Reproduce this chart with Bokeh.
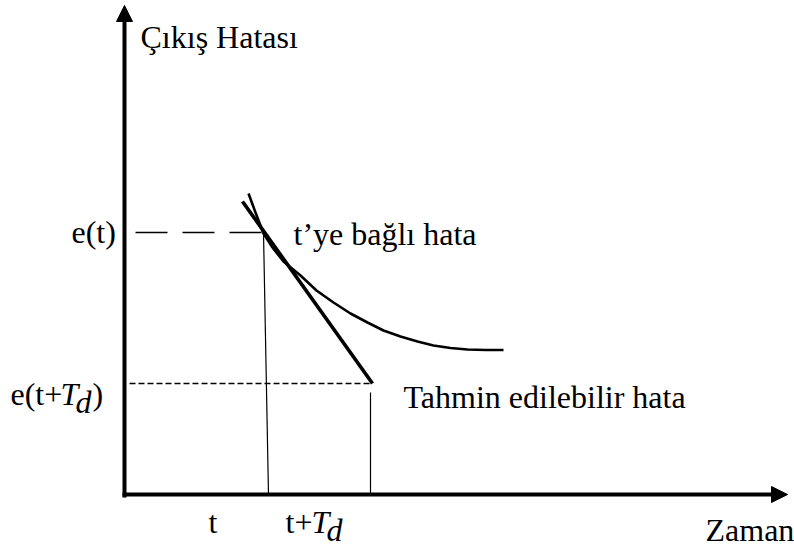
from bokeh.plotting import figure
from bokeh.models import Range1d, Arrow, NormalHead, Label
from bokeh.embed import file_html
from bokeh.resources import INLINE

# Schematic coordinates: origin at the axes' corner, x = time, y = output error
curve_x = [124, 131, 139, 148, 159, 176, 192, 209, 226, 243, 259, 276, 293, 309, 326, 343, 361, 379]
curve_y = [301, 282, 261, 247, 233, 219, 204, 192, 181, 172, 164, 158, 153, 149, 146.5, 145, 144.5, 144.5]

tangent_x = [118, 248]
tangent_y = [293, 111]

t_now = 139          # where the tangent touches the curve
t_now_base = 144     # foot of the t marker on the time axis
t_ahead = 246        # t + T_d
e_now = 262          # e(t)
e_ahead = 111        # e(t + T_d)

x_axis_end = 663
y_axis_end = 489

DY = 9  # baseline correction for the labels

p = figure(width=794, height=547, x_range=Range1d(-124, 670), y_range=Range1d(-53, 494),
           output_backend="svg", toolbar_location=None, min_border=0)
p.axis.visible = False
p.grid.visible = False
p.outline_line_color = None
p.background_fill_color = "white"
p.border_fill_color = "white"

# axes with arrowheads
p.add_layout(Arrow(end=NormalHead(size=16, fill_color="black", line_color="black"),
                   x_start=0, y_start=-3, x_end=0, y_end=y_axis_end,
                   line_width=4, line_color="black"))
p.add_layout(Arrow(end=NormalHead(size=16, fill_color="black", line_color="black"),
                   x_start=-2, y_start=0, x_end=x_axis_end, y_end=0,
                   line_width=4, line_color="black"))

# error level at t (long dashes) and predicted level at t+T_d (short dashes)
p.line([11, t_now - 1], [e_now, e_now], line_width=1.5, line_color="black", line_dash="32 15")
p.line([5, t_ahead], [e_ahead, e_ahead], line_width=1.5, line_color="black", line_dash="6 3")

# vertical markers
p.line([t_now, t_now_base], [e_now, 0], line_width=1.2, line_color="black")
p.line([t_ahead, t_ahead], [0, 102], line_width=1.2, line_color="black")

# error curve and its tangent
p.line(curve_x, curve_y, line_width=2.6, line_color="black")
p.line(tangent_x, tangent_y, line_width=3.6, line_color="black")


def label(x, y, s, italic=False):
    p.add_layout(Label(x=x, y=y + DY, text=s, text_font="Liberation Serif",
                       text_font_size="32px", text_font_style="italic" if italic else "normal",
                       text_color="black", text_align="left", text_baseline="alphabetic"))


label(16, 449, "Çıkış Hatası")
label(-53, 254, "e(t)")
label(169, 252, "t’ye bağlı hata")
label(279, 89, "Tahmin edilebilir hata")
label(581, -44, "Zaman")
label(84, -36, "t")

# e(t+T_d) with italic T and subscript d
label(-114, 92, "e(t+")
label(-64, 92, "T", italic=True)
label(-49, 84, "d", italic=True)
label(-32, 92, ")")

# t+T_d
label(161, -36, "t+")
label(187, -36, "T", italic=True)
label(202, -44, "d", italic=True)

open("out.html", "w").write(file_html(p, INLINE))
